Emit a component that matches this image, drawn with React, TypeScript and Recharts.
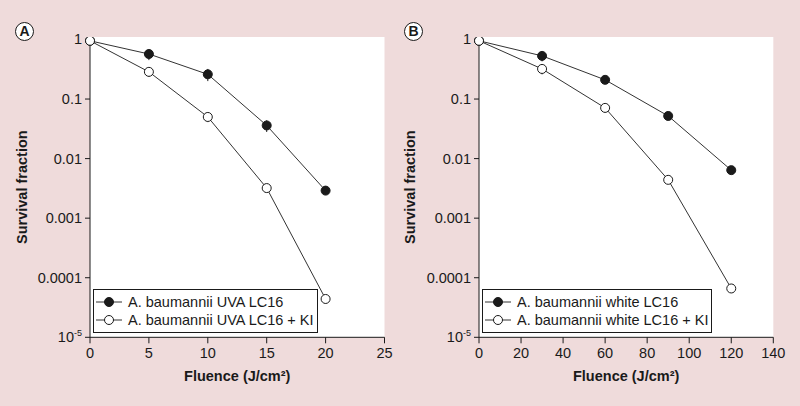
import React from 'react';
import { LineChart, Line, XAxis, YAxis, CartesianGrid, ErrorBar } from 'recharts';

// Panel A: UVA
const fluenceA = [0, 5, 10, 15, 20];
const uvaLC16 = [0.95, 0.57, 0.26, 0.036, 0.0029];
const uvaLC16Err = [0, 0.12, 0.06, 0.008, 0.0003];
const uvaLC16KI = [0.95, 0.286, 0.05, 0.0032, 0.000044];
const uvaLC16KIErr = [0, 0.05, 0.009, 0.0004, 0.000007];
const ticksA = [0, 5, 10, 15, 20, 25];

// Panel B: white light
const fluenceB = [0, 30, 60, 90, 120];
const whiteLC16 = [0.95, 0.53, 0.21, 0.052, 0.0064];
const whiteLC16Err = [0, 0.1, 0.02, 0.005, 0.0006];
const whiteLC16KI = [0.95, 0.32, 0.071, 0.0044, 0.000066];
const whiteLC16KIErr = [0, 0.06, 0.012, 0.0006, 0.00001];
const ticksB = [0, 20, 40, 60, 80, 100, 120, 140];

const yTicks = [0.00001, 0.0001, 0.001, 0.01, 0.1, 1];
const yTickLabels = ['10', '0.0001', '0.001', '0.01', '0.1', '1'];

const FONT = '"Liberation Sans", Arial, Helvetica, sans-serif';
const BG = '#efdbdb';
const INK = '#1a1a1a';

const YTick = ({ x, y, payload }: any) => {
  const i = yTicks.findIndex((t) => Math.abs(t - payload.value) < payload.value * 0.01);
  const label = yTickLabels[i] ?? String(payload.value);
  if (i === 0) {
    return (
      <text x={x} y={y} dy={5} textAnchor="end" fontSize={14.5} fill={INK} fontFamily={FONT}>
        {label}
        <tspan fontSize={9} dy={-6}>-5</tspan>
      </text>
    );
  }
  return (
    <text x={x} y={y} dy={5} textAnchor="end" fontSize={14.5} fill={INK} fontFamily={FONT}>
      {label}
    </text>
  );
};

const build = (xs: number[], a: number[], ae: number[], b: number[], be: number[]) =>
  xs.map((x, i) => ({ x, a: a[i], ae: ae[i], b: b[i], be: be[i] }));

interface PanelProps {
  tag: string;
  data: any[];
  domain: [number, number];
  ticks: number[];
  names: [string, string];
  leftW: number;
  rightM: number;
  yLabelX: number;
}

const LegendIcon = ({ open }: { open: boolean }) => (
  <svg width={26} height={12} style={{ marginRight: 6 }}>
    <line x1={0} y1={6} x2={26} y2={6} stroke="#333" strokeWidth={1} />
    <circle cx={13} cy={6} r={4.5} fill={open ? '#fff' : INK} stroke={INK} strokeWidth={1} />
  </svg>
);

const Panel = ({ tag, data, domain, ticks, names, leftW, rightM, yLabelX }: PanelProps) => (
  <div style={{ position: 'relative', width: 400, height: 406 }}>
    <LineChart width={400} height={406} data={data} margin={{ top: 37, right: rightM, bottom: 0, left: 0 }}>
      <CartesianGrid horizontal={false} vertical={false} fill="#ffffff" stroke="none" />
      <XAxis
        type="number"
        dataKey="x"
        domain={domain}
        ticks={ticks}
        height={68.7}
        stroke={INK}
        tickSize={6}
        tickMargin={4}
        tick={{ fontSize: 14.5, fill: INK, fontFamily: FONT }}
        label={{
          content: ({ viewBox }: any) => (
            <text
              x={viewBox.x + viewBox.width / 2}
              y={viewBox.y + 44}
              textAnchor="middle"
              fontSize={14.5}
              fontWeight="bold"
              fill={INK}
              fontFamily={FONT}
            >
              Fluence (J/cm²)
            </text>
          ),
        }}
      />
      <YAxis
        type="number"
        scale="log"
        domain={[0.00001, 1.1]}
        ticks={yTicks}
        allowDataOverflow
        width={leftW}
        stroke={INK}
        tickSize={5}
        tickMargin={3}
        tick={<YTick />}
        label={{
          content: ({ viewBox }: any) => (
            <text
              x={yLabelX}
              y={viewBox.y + viewBox.height / 2}
              transform={`rotate(-90 ${yLabelX} ${viewBox.y + viewBox.height / 2})`}
              textAnchor="middle"
              dominantBaseline="central"
              fontSize={14.5}
              fontWeight="bold"
              fill={INK}
              fontFamily={FONT}
            >
              Survival fraction
            </text>
          ),
        }}
      />
      <Line
        dataKey="a"
        name={names[0]}
        type="linear"
        stroke="#333"
        strokeWidth={1}
        isAnimationActive={false}
        dot={{ r: 4.5, fill: INK, stroke: INK, strokeWidth: 1 }}
      >
        <ErrorBar dataKey="ae" width={0} stroke={INK} strokeWidth={1} />
      </Line>
      <Line
        dataKey="b"
        name={names[1]}
        type="linear"
        stroke="#333"
        strokeWidth={1}
        isAnimationActive={false}
        dot={{ r: 4.5, fill: '#ffffff', stroke: INK, strokeWidth: 1 }}
      >
        <ErrorBar dataKey="be" width={0} stroke={INK} strokeWidth={1} />
      </Line>
    </LineChart>
    <div
      style={{
        position: 'absolute',
        left: leftW + 3,
        top: 289,
        border: `1.5px solid ${INK}`,
        background: '#fff',
        padding: '3px 3px 3px 2px',
        fontFamily: FONT,
        fontSize: 14.5,
        color: INK,
        lineHeight: '18px',
      }}
    >
      {names.map((n, i) => (
        <div key={n} style={{ display: 'flex', alignItems: 'center', whiteSpace: 'nowrap' }}>
          <LegendIcon open={i === 1} />
          {n}
        </div>
      ))}
    </div>
    <div
      style={{
        position: 'absolute',
        left: leftW - 65 - 10,
        top: 22,
        width: 17,
        height: 17,
        border: `1.5px solid ${INK}`,
        borderRadius: '50%',
        background: '#fff',
        fontFamily: FONT,
        fontWeight: 'bold',
        fontSize: 14,
        lineHeight: '17px',
        textAlign: 'center',
        color: INK,
      }}
    >
      {tag}
    </div>
  </div>
);

const App = () => (
  <div
    style={{
      position: 'absolute',
      left: 0,
      top: 0,
      width: 800,
      height: 406,
      background: BG,
      display: 'flex',
    }}
  >
    <Panel
      tag="A"
      data={build(fluenceA, uvaLC16, uvaLC16Err, uvaLC16KI, uvaLC16KIErr)}
      domain={[0, 25]}
      ticks={ticksA}
      names={['A. baumannii UVA LC16', 'A. baumannii UVA LC16 + KI']}
      leftW={90}
      rightM={15.5}
      yLabelX={22}
    />
    <Panel
      tag="B"
      data={build(fluenceB, whiteLC16, whiteLC16Err, whiteLC16KI, whiteLC16KIErr)}
      domain={[0, 140]}
      ticks={ticksB}
      names={['A. baumannii white LC16', 'A. baumannii white LC16 + KI']}
      leftW={79}
      rightM={26.7}
      yLabelX={10}
    />
  </div>
);

export default App;
